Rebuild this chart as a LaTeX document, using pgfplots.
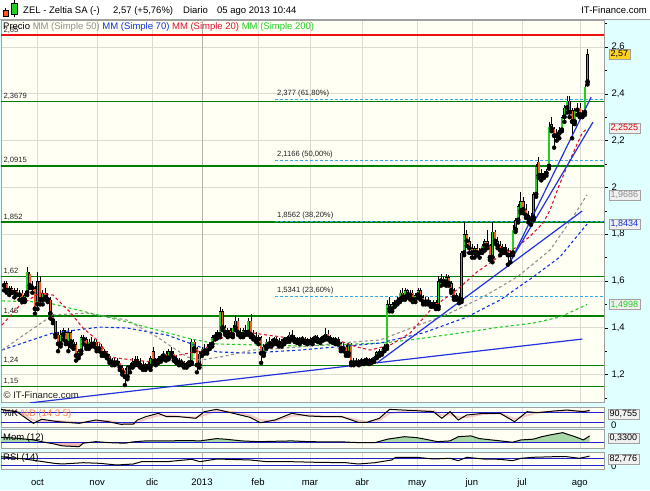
\documentclass[border=0pt]{standalone}
\usepackage{fontspec}
\setmainfont{Liberation Sans}
\usepackage{pgfplots}
\pgfplotsset{compat=1.18}
\usepackage{pgfplotstable}

\definecolor{bgcyan}{HTML}{E0FFFF}
\definecolor{panelbg}{HTML}{FFFFF4}
\definecolor{gridc}{HTML}{DCDCD4}
\definecolor{grid13}{HTML}{B4B4AC}
\definecolor{dgreen}{HTML}{008000}
\definecolor{cgreen}{HTML}{22D022}
\definecolor{cred}{HTML}{FF5522}
\definecolor{fibc}{HTML}{33AAEE}
\definecolor{trendc}{HTML}{2233DD}
\definecolor{maA}{HTML}{DD1133}
\definecolor{maB}{HTML}{909090}
\definecolor{maC}{HTML}{1133DD}
\definecolor{maD}{HTML}{22CC22}
\definecolor{indblue}{HTML}{2222CC}
\definecolor{boxfill}{HTML}{F0F0F0}
\definecolor{boxdraw}{HTML}{A0A0A0}
\definecolor{momgreen}{HTML}{A8D8A8}
\definecolor{mompink}{HTML}{F4B8B8}
\definecolor{stochpink}{HTML}{F2B0B0}
\definecolor{gold}{HTML}{FFD21E}
\definecolor{lblc}{HTML}{222222}
\definecolor{redline}{HTML}{EE1111}

\pgfplotstableread{
d o h l c
-13 1.58 1.60 1.56 1.59
-12 1.59 1.60 1.55 1.56
-11 1.56 1.58 1.54 1.57
-10 1.57 1.58 1.55 1.55
-9 1.55 1.57 1.53 1.56
-8 1.56 1.57 1.54 1.54
-7 1.54 1.56 1.52 1.55
-6 1.55 1.56 1.51 1.52
-5 1.52 1.55 1.51 1.54
-4 1.55 1.66 1.54 1.64
-3 1.63 1.64 1.57 1.58
-2 1.58 1.60 1.55 1.57
-1 1.57 1.58 1.46 1.48
0 1.50 1.64 1.48 1.60
1 1.60 1.62 1.50 1.52
2 1.52 1.56 1.50 1.55
3 1.55 1.57 1.52 1.53
4 1.53 1.55 1.51 1.52
5 1.52 1.53 1.44 1.46
6 1.45 1.46 1.42 1.43
7 1.43 1.43 1.36 1.37
8 1.37 1.38 1.30 1.33
9 1.33 1.39 1.32 1.37
10 1.37 1.40 1.35 1.39
11 1.38 1.39 1.33 1.34
12 1.33 1.40 1.30 1.38
13 1.38 1.39 1.32 1.34
14 1.34 1.35 1.31 1.32
15 1.33 1.34 1.26 1.28
16 1.28 1.31 1.27 1.30
17 1.30 1.37 1.29 1.36
18 1.36 1.37 1.33 1.35
19 1.35 1.36 1.31 1.32
20 1.32 1.35 1.31 1.34
21 1.34 1.36 1.32 1.33
22 1.33 1.35 1.32 1.345
23 1.34 1.35 1.30 1.31
24 1.31 1.33 1.30 1.32
25 1.32 1.33 1.28 1.29
26 1.29 1.31 1.28 1.30
27 1.30 1.30 1.27 1.28
28 1.28 1.29 1.25 1.26
29 1.26 1.27 1.24 1.25
30 1.25 1.27 1.24 1.26
31 1.26 1.27 1.245 1.25
32 1.25 1.26 1.22 1.23
33 1.23 1.24 1.20 1.21
34 1.22 1.23 1.155 1.19
35 1.19 1.24 1.18 1.235
36 1.23 1.25 1.21 1.24
37 1.24 1.27 1.23 1.255
38 1.25 1.28 1.24 1.265
39 1.265 1.28 1.24 1.25
40 1.25 1.27 1.23 1.24
41 1.24 1.26 1.22 1.23
42 1.23 1.25 1.22 1.245
43 1.245 1.26 1.23 1.235
44 1.235 1.28 1.22 1.27
45 1.30 1.32 1.245 1.255
46 1.255 1.27 1.24 1.26
47 1.26 1.28 1.25 1.27
48 1.27 1.29 1.255 1.28
49 1.28 1.30 1.265 1.29
50 1.29 1.30 1.26 1.27
51 1.27 1.31 1.265 1.30
52 1.30 1.32 1.28 1.29
53 1.29 1.30 1.26 1.27
54 1.27 1.285 1.25 1.26
55 1.26 1.27 1.24 1.25
56 1.25 1.265 1.24 1.255
57 1.255 1.26 1.23 1.24
58 1.24 1.255 1.23 1.25
59 1.25 1.26 1.24 1.25
60 1.25 1.35 1.245 1.34
61 1.34 1.35 1.30 1.31
62 1.31 1.32 1.21 1.24
63 1.24 1.30 1.23 1.29
64 1.29 1.32 1.28 1.31
65 1.31 1.33 1.29 1.30
66 1.30 1.33 1.29 1.32
67 1.32 1.34 1.31 1.33
68 1.33 1.37 1.32 1.36
69 1.36 1.38 1.35 1.37
70 1.37 1.39 1.355 1.38
71 1.37 1.49 1.36 1.47
72 1.47 1.48 1.39 1.40
73 1.40 1.41 1.37 1.38
74 1.38 1.40 1.36 1.39
75 1.39 1.40 1.365 1.37
76 1.37 1.41 1.36 1.40
77 1.40 1.455 1.39 1.43
78 1.43 1.44 1.37 1.38
79 1.38 1.40 1.36 1.37
80 1.37 1.40 1.36 1.39
81 1.39 1.41 1.37 1.38
82 1.38 1.44 1.37 1.43
83 1.43 1.46 1.36 1.37
84 1.37 1.39 1.35 1.36
85 1.36 1.38 1.34 1.35
86 1.35 1.37 1.33 1.36
87 1.36 1.365 1.25 1.29
88 1.29 1.33 1.28 1.32
89 1.32 1.35 1.31 1.34
90 1.34 1.36 1.32 1.33
91 1.33 1.35 1.32 1.345
92 1.345 1.36 1.33 1.35
93 1.35 1.36 1.33 1.34
94 1.34 1.355 1.32 1.33
95 1.33 1.35 1.32 1.345
96 1.345 1.36 1.33 1.355
97 1.355 1.365 1.34 1.35
98 1.35 1.38 1.34 1.37
99 1.37 1.39 1.35 1.36
100 1.36 1.37 1.34 1.35
101 1.35 1.36 1.335 1.345
102 1.345 1.36 1.33 1.355
103 1.355 1.365 1.34 1.35
104 1.35 1.36 1.335 1.34
105 1.34 1.355 1.33 1.35
106 1.35 1.36 1.335 1.34
107 1.34 1.36 1.33 1.355
108 1.355 1.37 1.345 1.36
109 1.36 1.37 1.34 1.345
110 1.345 1.36 1.335 1.355
111 1.355 1.37 1.345 1.36
112 1.36 1.40 1.35 1.375
113 1.375 1.39 1.35 1.355
114 1.355 1.37 1.34 1.35
115 1.35 1.36 1.335 1.345
116 1.345 1.36 1.33 1.35
117 1.35 1.36 1.33 1.335
118 1.335 1.34 1.30 1.31
119 1.31 1.335 1.30 1.32
120 1.32 1.33 1.28 1.29
121 1.29 1.335 1.28 1.33
122 1.33 1.335 1.24 1.25
123 1.25 1.27 1.24 1.26
124 1.26 1.27 1.245 1.25
125 1.25 1.265 1.24 1.26
126 1.26 1.27 1.245 1.255
127 1.255 1.27 1.245 1.265
128 1.265 1.275 1.25 1.26
129 1.26 1.27 1.245 1.255
130 1.255 1.27 1.25 1.265
131 1.265 1.28 1.255 1.275
132 1.275 1.30 1.27 1.295
133 1.295 1.31 1.28 1.29
134 1.29 1.32 1.285 1.31
135 1.31 1.33 1.30 1.32
136 1.32 1.52 1.31 1.50
137 1.50 1.53 1.47 1.48
138 1.48 1.51 1.47 1.50
139 1.50 1.52 1.49 1.51
140 1.51 1.53 1.50 1.52
141 1.52 1.56 1.51 1.55
142 1.55 1.57 1.52 1.53
143 1.53 1.57 1.52 1.56
144 1.56 1.565 1.53 1.54
145 1.54 1.56 1.52 1.55
146 1.55 1.56 1.51 1.52
147 1.52 1.55 1.51 1.54
148 1.54 1.57 1.53 1.56
149 1.56 1.57 1.52 1.53
150 1.53 1.54 1.50 1.51
151 1.51 1.53 1.50 1.52
152 1.52 1.53 1.50 1.51
153 1.51 1.52 1.49 1.50
154 1.50 1.52 1.49 1.51
155 1.51 1.52 1.48 1.49
156 1.49 1.62 1.48 1.60
157 1.60 1.63 1.58 1.61
158 1.61 1.62 1.585 1.595
159 1.595 1.63 1.58 1.615
160 1.615 1.625 1.58 1.59
161 1.59 1.60 1.55 1.56
162 1.56 1.57 1.52 1.53
163 1.53 1.55 1.52 1.54
164 1.53 1.55 1.505 1.52
165 1.52 1.73 1.51 1.72
166 1.72 1.85 1.71 1.80
167 1.80 1.82 1.75 1.77
168 1.77 1.79 1.72 1.74
169 1.74 1.76 1.70 1.72
170 1.72 1.75 1.70 1.74
171 1.74 1.76 1.71 1.72
172 1.72 1.74 1.70 1.73
173 1.73 1.76 1.72 1.75
174 1.75 1.78 1.73 1.77
175 1.77 1.82 1.74 1.75
176 1.75 1.76 1.69 1.70
177 1.70 1.85 1.68 1.81
178 1.81 1.82 1.76 1.77
179 1.77 1.79 1.74 1.75
180 1.75 1.77 1.71 1.73
181 1.73 1.76 1.72 1.745
182 1.745 1.76 1.72 1.73
183 1.73 1.74 1.67 1.71
184 1.71 1.73 1.68 1.72
185 1.72 1.84 1.71 1.82
186 1.82 1.87 1.81 1.86
187 1.86 1.93 1.85 1.92
188 1.90 1.98 1.89 1.94
189 1.94 1.96 1.89 1.905
190 1.905 1.93 1.87 1.88
191 1.88 1.90 1.85 1.865
192 1.865 1.89 1.84 1.87
193 1.87 1.98 1.86 1.97
194 1.97 2.10 1.96 2.09
195 2.11 2.13 2.04 2.05
196 2.05 2.08 2.03 2.06
197 2.05 2.07 2.04 2.06
198 2.06 2.08 2.05 2.07
199 2.09 2.28 2.08 2.26
200 2.27 2.30 2.24 2.25
201 2.25 2.26 2.17 2.22
202 2.22 2.25 2.20 2.23
203 2.23 2.26 2.21 2.245
204 2.245 2.31 2.24 2.30
205 2.30 2.35 2.28 2.34
206 2.34 2.39 2.32 2.37
207 2.37 2.39 2.30 2.32
208 2.33 2.34 2.21 2.28
209 2.28 2.34 2.27 2.33
210 2.33 2.36 2.31 2.34
211 2.34 2.36 2.30 2.31
212 2.31 2.33 2.30 2.32
213 2.32 2.44 2.31 2.43
214 2.45 2.59 2.44 2.57
}\ohlc

\pgfplotstableread{
d p
-13.8 1.412
-6.8 1.497
1 1.549
6 1.540
12.6 1.468
17.7 1.399
23.2 1.348
28.2 1.275
37.2 1.262
45 1.254
55.4 1.284
64.4 1.305
69.8 1.348
74.9 1.369
83.9 1.378
89.3 1.369
98.2 1.356
108.8 1.348
116.5 1.348
124.3 1.318
129.4 1.305
137.2 1.326
145 1.378
153.9 1.489
163.2 1.562
170.9 1.638
178.7 1.698
186.5 1.745
191.5 1.790
196.7 1.848
199.4 1.903
202.7 2.002
206.6 2.104
211.9 2.232
213.8 2.2525
}\mmA

\pgfplotstableread{
d p
-13.8 1.305
6 1.455
19.3 1.463
34.8 1.433
46.5 1.361
58.2 1.275
63.2 1.262
71 1.275
83.9 1.305
102.1 1.318
117.7 1.335
133.3 1.348
160.5 1.463
173.4 1.532
186.6 1.617
199.4 1.732
208.4 1.874
213.8 1.9686
}\mmB

\pgfplotstableread{
d p
-13.8 1.305
6 1.378
24.3 1.403
34.8 1.399
50.4 1.369
63.2 1.318
69.8 1.297
82.7 1.292
102.1 1.305
124.3 1.326
133.3 1.335
150 1.378
167.1 1.446
180 1.519
192.8 1.617
203.3 1.703
211.9 1.818
213.8 1.8434
}\mmC

\pgfplotstableread{
d p
-13.8 1.515
2.9 1.510
34.8 1.425
58.2 1.356
69.8 1.331
102.1 1.322
134.4 1.335
145 1.348
167.1 1.382
180 1.403
192.8 1.420
203.3 1.446
213.8 1.4998
}\mmD

\pgfplotstableread{
d k s
-14.6 97 92
-8.1 83.5 88
-1.6 16.5 35
1.6 39.6 28
8.1 25.8 30
16.2 16.5 20
22.7 35.6 28
27.6 25.8 30
32.4 10.8 18
37.3 12.5 12
38.9 35.6 22
42.1 54.6 42
47 74 62
50.3 54.6 62
55.1 54.6 56
61.6 45.4 50
64.9 83.5 65
69.7 97 88
76.2 74 82
82.7 51 62
86.7 20 35
92.4 35.6 30
98.9 74 60
105.4 58.6 64
111.9 54.6 56
118.4 54.6 55
124.8 22 34
128.1 22 24
133 45.4 35
137 97 75
147.5 89 92
154 83.5 86
157.3 45.4 62
160.5 83.5 68
163.7 35.6 52
167 64.4 52
173.5 74 70
180 74 74
185.6 25.8 42
190.5 83.5 62
194.6 77.7 80
201 87.5 84
205.9 93 90
212.4 83.5 87
214.8 90.8 88
}\stoch

\pgfplotstableread{
d m
-14.6 0.26
-8.1 0.21
-1.6 0.12
1.6 0.03
6.5 -0.09
9.7 -0.19
16.2 -0.23
17.8 -0.05
22.7 0.03
27.6 -0.02
34 -0.05
37.3 0.02
42.1 0.07
50.3 0.07
58.4 0.09
63.2 0.07
69.7 0.19
73 0.16
79.5 0.07
85.9 0.03
92.4 0.05
98.9 0.07
105.4 0.03
111.9 0.02
118.4 0.02
124.8 -0.02
131.3 -0.02
136.2 0.16
142.7 0.29
147.5 0.24
150.8 0.16
155.6 0.03
160.5 0.07
163.7 0.29
168.6 0.33
171.9 0.19
176.7 0.12
184.8 0.0
188.1 0.12
192.9 0.16
196.2 0.29
199.4 0.38
204.3 0.5
209.1 0.29
212.4 0.12
214.8 0.33
}\momt

\pgfplotstableread{
d r
-14.6 79.6
-4.9 65.8
6.5 40
9.7 36
17.8 43.7
24.3 40
30.8 30
37.3 36
40.5 49.7
50.3 49.7
60 64
63.2 49.7
69.7 65.8
82.7 60
89.2 49.7
98.9 49.7
108.6 46
120 43.7
124.8 36
131.3 43.7
137.8 60
139.4 76
147.5 76
154 65.8
160.5 70
163.7 55.7
167 76
173.5 65.8
180 64
184.8 55.7
188.1 70
192.9 76
201 79.6
205.9 79.6
210.8 70
214.8 82.8
}\rsit

\pgfplotsset{
  panel/.style={
    scale only axis, width=603pt, anchor=south west,
    xmin=-14.2, xmax=220.4,
    axis background/.style={fill=panelbg},
    axis line style={draw=boxdraw},
    xtick={0,23.2,44.6,64,85.8,106,126.3,147.7,169,188.5,211},
    xmajorgrids,
    grid style={gridc, line width=0.6pt},
    xtick style={draw=none},
    ytick style={draw=none},
    ticklabel style={font=\fontsize{9.5}{11}\selectfont},
  },
  candle/.style={only marks, mark=none, error bars/y dir=plus, error bars/y explicit, error bars/error mark=none},
  mline/.style={line width=1.1pt, dash pattern=on 3pt off 2.6pt},
}

\tikzset{
  lbl/.style={anchor=south west, inner sep=0.4pt, text=lblc, font=\fontsize{7.6}{9}\selectfont},
  vbox/.style={anchor=west, draw=boxdraw, fill=boxfill, inner xsep=1.5pt, inner ysep=1.2pt, font=\fontsize{9}{10}\selectfont},
}

\begin{document}
\begin{tikzpicture}[x=1pt,y=1pt]
\useasboundingbox (0,0) rectangle (650,490);
\fill[bgcyan] (0,0) rectangle (650,490);
\fill[white] (0,470) rectangle (650,490);
\draw[boxdraw, line width=0.8pt] (0,470.4) -- (650,470.4);

% ---------------- main price panel ----------------
\begin{axis}[panel, at={(1pt,88pt)}, height=382pt,
  ymin=1.0829, ymax=2.7154,
  xticklabels={},
  ytick={1.2,1.4,1.6,1.8,2.0,2.2,2.4,2.6},
  yticklabels={{1,2},{1,4},{1,6},{1,8},2,{2,2},{2,4},{2,6}},
  minor ytick={1.1,1.3,1.5,1.7,1.9,2.1,2.3,2.5,2.7},
  ymajorgrids,
  ytick pos=right, yticklabel pos=right,
  tick align=outside,
  ytick style={draw=black, line width=0.5pt},
  minor tick style={draw=black, line width=0.5pt},
  major tick length=4pt, minor tick length=3pt,
  yticklabel style={anchor=west},
]
\addplot[grid13, line width=0.8pt] coordinates {(64,1) (64,3)};
% horizontal support / resistance lines
\addplot[redline, line width=2.2pt] coordinates {(-20,2.65) (230,2.65)};
\addplot[dgreen, line width=1.2pt] coordinates {(-20,2.3679) (230,2.3679)};
\addplot[dgreen, line width=2.2pt] coordinates {(-20,2.0915) (230,2.0915)};
\addplot[dgreen, line width=1.2pt] coordinates {(-20,1.852) (230,1.852)};
\addplot[dgreen, line width=1.2pt] coordinates {(-20,1.62) (230,1.62)};
\addplot[dgreen, line width=1.2pt] coordinates {(-20,1.45) (230,1.45)};
\addplot[dgreen, line width=1.2pt] coordinates {(-20,1.24) (230,1.24)};
\addplot[dgreen, line width=1.2pt] coordinates {(-20,1.15) (230,1.15)};
% fibonacci levels
\addplot[fibc, line width=1pt, dash pattern=on 3pt off 2pt] coordinates {(92.4,2.377) (230,2.377)};
\addplot[fibc, line width=1pt, dash pattern=on 3pt off 2pt] coordinates {(92.4,2.1166) (230,2.1166)};
\addplot[fibc, line width=1pt, dash pattern=on 3pt off 2pt] coordinates {(92.4,1.8562) (230,1.8562)};
\addplot[fibc, line width=1pt, dash pattern=on 3pt off 2pt] coordinates {(92.4,1.5341) (230,1.5341)};
% candles: wicks
\addplot[candle, error bars/error bar style={draw=black, line width=0.6pt}]
  table[x=d, y=l, y error plus expr={\thisrow{h}-\thisrow{l}}] {\ohlc};
% candles: bodies (outline)
\addplot[candle, error bars/error bar style={draw=black, line width=2.7pt}]
  table[x=d, y expr={min(\thisrow{o},\thisrow{c})}, y error plus expr={max(abs(\thisrow{c}-\thisrow{o}),0.005)}] {\ohlc};
% up bodies
\addplot[restrict expr to domain={\thisrow{c}-\thisrow{o}}{0:5}, candle, error bars/error bar style={draw=cgreen, line width=1.7pt}]
  table[x=d, y expr={min(\thisrow{o},\thisrow{c})+0.0022}, y error plus expr={max(abs(\thisrow{c}-\thisrow{o})-0.0044,0)}] {\ohlc};
% down bodies
\addplot[restrict expr to domain={\thisrow{c}-\thisrow{o}}{-5:-0.0001}, candle, error bars/error bar style={draw=cred, line width=1.7pt}]
  table[x=d, y expr={min(\thisrow{o},\thisrow{c})+0.0022}, y error plus expr={max(abs(\thisrow{c}-\thisrow{o})-0.0044,0)}] {\ohlc};
% moving averages
\addplot[mline, maD] table[x=d, y=p] {\mmD};
\addplot[mline, maC] table[x=d, y=p] {\mmC};
\addplot[mline, maB] table[x=d, y=p] {\mmB};
\addplot[mline, maA] table[x=d, y=p] {\mmA};
% trend lines
\addplot[trendc, line width=1.2pt] coordinates {(-3,1.079) (212,1.352)};
\addplot[trendc, line width=1.2pt] coordinates {(132.1,1.250) (211.9,1.899)};
\addplot[trendc, line width=1.2pt] coordinates {(183.1,1.668) (216.1,2.279)};
\addplot[trendc, line width=1.2pt] coordinates {(183.9,1.681) (215.4,2.386)};
\end{axis}

% ---------------- %K %D ----------------
\begin{axis}[panel, at={(1pt,63pt)}, height=20pt, ymin=-4.8, ymax=110.6, ytick=\empty, xticklabels={}]
\addplot[grid13, line width=0.8pt] coordinates {(64,-50) (64,200)};
\addplot[stochpink, line width=1.8pt, opacity=0.7] table[x=d, y=s] {\stoch};
\addplot[indblue, line width=0.9pt] coordinates {(-20,80) (230,80)};
\addplot[indblue, line width=0.9pt] coordinates {(-20,20) (230,20)};
\addplot[black, line width=1pt] table[x=d, y=k] {\stoch};
\end{axis}

% ---------------- Mom (12) ----------------
\begin{axis}[panel, at={(1pt,42pt)}, height=19pt, ymin=-0.30, ymax=0.69, ytick=\empty, xticklabels={}]
\addplot[grid13, line width=0.8pt] coordinates {(64,-5) (64,5)};
\addplot[draw=none, fill=momgreen] table[x=d, y expr={max(\thisrow{m},0)}] {\momt} \closedcycle;
\addplot[draw=none, fill=mompink] table[x=d, y expr={min(\thisrow{m},0)}] {\momt} \closedcycle;
\addplot[indblue, line width=0.9pt] coordinates {(-20,0) (230,0)};
\addplot[black, line width=1pt] table[x=d, y=m] {\momt};
\end{axis}

% ---------------- RSI (14) ----------------
\begin{axis}[panel, at={(1pt,21pt)}, height=17pt, ymin=6.1, ymax=107.6, ytick=\empty,
  xticklabels={oct,nov,dic,2013,feb,mar,abr,may,jun,jul,ago},
  xticklabel style={anchor=base, yshift=-16.7pt}]
\addplot[grid13, line width=0.8pt] coordinates {(64,-50) (64,200)};
\addplot[indblue, line width=0.9pt] coordinates {(-20,70) (230,70)};
\addplot[indblue, line width=0.9pt] coordinates {(-20,30) (230,30)};
\addplot[black, line width=1pt] table[x=d, y=r] {\rsit};
\end{axis}

% ---------------- title bar ----------------
\draw[black, line width=0.6pt] (5.5,472.5) -- (5.5,482);
\filldraw[fill=cred, draw=black, line width=0.6pt] (3,474) rectangle (8,480);
\draw[black, line width=0.6pt] (14,473) -- (14,489.5);
\filldraw[fill=cgreen, draw=black, line width=0.6pt] (11,475.5) rectangle (17,487);
\begin{scope}[every node/.style={inner sep=0pt, font=\fontsize{9.5}{11}\selectfont}]
\node[anchor=base west] at (23,476.8) {ZEL - Zeltia SA (-)};
\node[anchor=base west] at (113,476.8) {2,57 (+5,76\%)};
\node[anchor=base west] at (183,476.8) {Diario};
\node[anchor=base west] at (217,476.8) {05 ago 2013 10:44};
\node[anchor=base east] at (647,476.2) {IT-Finance.com};
\end{scope}

% ---------------- price labels on the left ----------------
\node[lbl] at (3,455.8) {2,65};
\node[lbl] at (3,390.0) {2,3679};
\node[lbl] at (3,325.8) {2,0915};
\node[lbl] at (3,269.4) {1,852};
\node[lbl] at (3,215.0) {1,62};
\node[lbl] at (3,175.2) {1,45};
\node[lbl] at (3,126.1) {1,24};
\node[lbl] at (3,105.0) {1,15};
% fibonacci labels
\node[lbl] at (276.5,392.0) {2,377 (61,80\%)};
\node[lbl] at (276.5,331.2) {2,1166 (50,00\%)};
\node[lbl] at (276.5,270.3) {1,8562 (38,20\%)};
\node[lbl] at (276.5,195.0) {1,5341 (23,60\%)};

% legend row
\node[anchor=base west, inner sep=0pt, font=\fontsize{9.5}{11}\selectfont] at (3,460.6)
  {Precio \textcolor{maB}{MM (Simple 50)} \textcolor{maC}{MM (Simple 70)} \textcolor{maA}{MM (Simple 20)} \textcolor{maD}{MM (Simple 200)}};

% watermark
\node[anchor=base west, inner sep=0pt, text=lblc, font=\fontsize{9.5}{11}\selectfont] at (3.5,91.3) {\textcopyright{} IT-Finance.com};

% indicator titles
\node[anchor=base west, inner sep=0pt, font=\fontsize{9.5}{11}\selectfont] at (3,73.3) {\%K \textcolor{cred!80}{\%D (14 3 5)}};
\node[anchor=base west, inner sep=0pt, font=\fontsize{9.5}{11}\selectfont] at (3,49.6) {Mom (12)};
\node[anchor=base west, inner sep=0pt, font=\fontsize{9.5}{11}\selectfont] at (3,29.6) {RSI (14)};

% right side value boxes
\begin{scope}[every node/.style={font=\fontsize{9.5}{11}\selectfont}]
\node[anchor=west, inner sep=0pt] at (611,65.2) {0};
\node[anchor=west, inner sep=0pt] at (611,44.5) {-};
\node[anchor=west, inner sep=0pt] at (611,23.3) {0};
\end{scope}
\node[vbox, fill=gold, text=black] at (609,436) {2,57};
\node[vbox, text=red!85!black] at (609,361.7) {2,2525};
\node[vbox, text=maB] at (609,295.2) {1,9686};
\node[vbox, text=maC] at (609,265.9) {1,8434};
\node[vbox, text=maD] at (609,185.5) {1,4998};
\node[vbox, text=black] at (608,76) {90,755};
\node[vbox, text=black] at (608,52) {0,3300};
\node[vbox, text=black] at (608,31) {82,776};
\end{tikzpicture}
\end{document}
